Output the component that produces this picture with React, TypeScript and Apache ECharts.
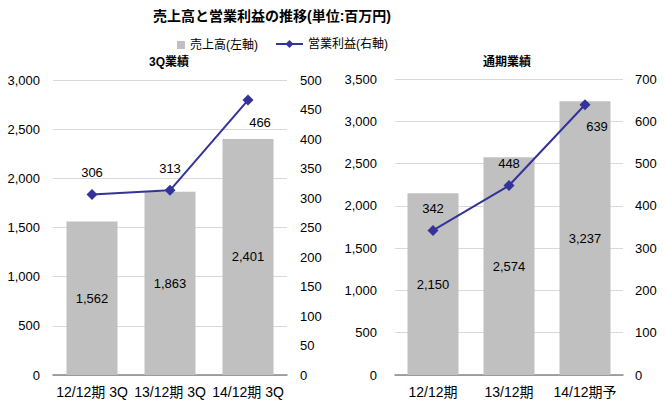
import React, { useEffect, useRef } from 'react';
import * as echarts from 'echarts';

const chartTitle = '売上高と営業利益の推移(単位:百万円)';
const salesName = '売上高(左軸)';
const profitName = '営業利益(右軸)';
const leftTitle = '3Q業績';
const rightTitle = '通期業績';
const leftCategories = ['12/12期 3Q', '13/12期 3Q', '14/12期 3Q'];
const leftSales = [1562, 1863, 2401];
const leftProfit = [306, 313, 466];
const rightCategories = ['12/12期', '13/12期', '14/12期予'];
const rightSales = [2150, 2574, 3237];
const rightProfit = [342, 448, 639];

const FONT = "'Liberation Sans', 'Noto Sans CJK JP', sans-serif";
const fmt = (v: number) => Number(v).toLocaleString('en-US');

export default function App() {
  const ref = useRef<HTMLDivElement>(null);
  useEffect(() => {
    document.body.style.margin = '0';
    if (!ref.current) return;
    const chart = echarts.init(ref.current, undefined, { renderer: 'svg' });
    const xAxisCommon = (gridIndex: number, data: string[]) => ({
      gridIndex,
      type: 'category',
      data,
      axisLine: { lineStyle: { color: '#868686', width: 1.5 } },
      axisTick: { length: 5, lineStyle: { color: '#868686', width: 1.5 } },
      axisLabel: { interval: 0, color: '#000', fontSize: 14, margin: 10, fontFamily: FONT },
    });
    const yAxisCommon = (gridIndex: number, max: number, interval: number, position: string, margin: number, split: boolean) => ({
      gridIndex,
      type: 'value',
      min: 0,
      max,
      interval,
      position,
      axisLine: { show: false },
      axisTick: { show: false },
      splitLine: { show: split, lineStyle: { color: '#d9d9d9', width: 1 } },
      axisLabel: { color: '#000', fontSize: 13, margin, fontFamily: FONT, formatter: fmt },
    });
    const barSeries = (idx: number, data: number[]) => ({
      type: 'bar',
      name: salesName,
      xAxisIndex: idx,
      yAxisIndex: idx * 2,
      data,
      barWidth: 51,
      itemStyle: { color: '#c0c0c0' },
      label: { show: true, position: 'inside', color: '#000', fontSize: 13, fontFamily: FONT, formatter: (p: any) => fmt(p.value) },
    });
    const lineSeries = (idx: number, data: number[]) => ({
      type: 'line',
      name: profitName,
      xAxisIndex: idx,
      yAxisIndex: idx * 2 + 1,
      data: data.map((v, i) => ({
        value: v,
        label: i === data.length - 1 ? { position: 'bottom', offset: [12, 0] } : { position: 'top' },
      })),
      symbol: 'diamond',
      symbolSize: 11,
      lineStyle: { color: '#333399', width: 2 },
      itemStyle: { color: '#333399' },
      label: { show: true, distance: 10, color: '#000', fontSize: 13, fontFamily: FONT },
    });
    chart.setOption({
      animation: false,
      backgroundColor: '#fff',
      textStyle: { fontFamily: FONT },
      graphic: [
        { type: 'text', x: 272, y: 16, style: { text: chartTitle, font: `bold 14px ${FONT}`, fill: '#000', textAlign: 'center', textVerticalAlign: 'middle' } },
        { type: 'text', x: 169, y: 62, style: { text: leftTitle, font: `bold 12px ${FONT}`, fill: '#000', textAlign: 'center', textVerticalAlign: 'middle' } },
        { type: 'text', x: 507, y: 62, style: { text: rightTitle, font: `bold 12px ${FONT}`, fill: '#000', textAlign: 'center', textVerticalAlign: 'middle' } },
      ],
      legend: [
        { data: [salesName], left: 172, top: 34, icon: 'rect', itemWidth: 8, itemHeight: 8, selectedMode: false, textStyle: { color: '#000', fontSize: 12, fontFamily: FONT } },
        { data: [profitName], left: 270, top: 33, itemWidth: 27, itemHeight: 10, selectedMode: false, textStyle: { color: '#000', fontSize: 12, fontFamily: FONT } },
      ],
      grid: [
        { left: 53, top: 80, width: 234, height: 295 },
        { left: 395, top: 79, width: 228, height: 296 },
      ],
      xAxis: [xAxisCommon(0, leftCategories), xAxisCommon(1, rightCategories)],
      yAxis: [
        yAxisCommon(0, 3000, 500, 'left', 13, true),
        yAxisCommon(0, 500, 50, 'right', 13, false),
        yAxisCommon(1, 3500, 500, 'left', 18, true),
        yAxisCommon(1, 700, 100, 'right', 12, false),
      ],
      series: [
        barSeries(0, leftSales),
        lineSeries(0, leftProfit),
        barSeries(1, rightSales),
        lineSeries(1, rightProfit),
      ],
    });
    return () => chart.dispose();
  }, []);
  return <div ref={ref} style={{ width: 666, height: 407 }} />;
}
